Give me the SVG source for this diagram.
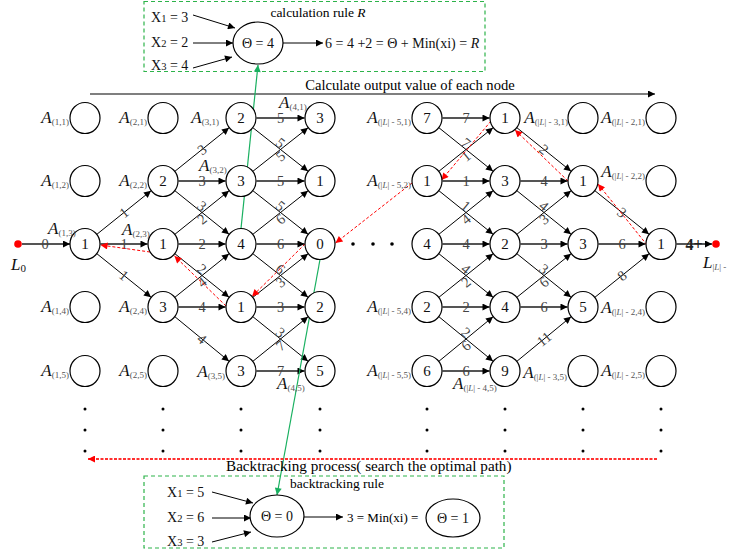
<svg xmlns="http://www.w3.org/2000/svg" width="729" height="554" viewBox="0 0 729 554">
  <style>
    text { font-family: "Liberation Serif", "Times New Roman", serif; }
    .nd { fill: #fff; stroke: #000; stroke-width: 1.2; }
    .nt { font-size: 15px; text-anchor: middle; fill: #111; }
    .e { stroke: #000; stroke-width: 1; fill: none; marker-end: url(#ah); }
    .h { stroke: #555; stroke-width: 1.8; fill: none; marker-end: url(#ah); }
    .w { font-size: 14.5px; fill: #444; text-anchor: middle; }
    .bt { stroke: #f00; stroke-width: 1; stroke-dasharray: 3 2; fill: none; marker-end: url(#ahr); }
    .gr { stroke: #19b060; stroke-width: 1.2; fill: none; marker-end: url(#ahg); }
    .box { fill: none; stroke: #2db34a; stroke-width: 1.2; stroke-dasharray: 4 3; }
    .la { font-size: 17px; font-style: italic; fill: #111; }
    .ls { font-size: 9px; font-style: normal; fill: #555; }
    .lb { font-size: 14px; fill: #111; }
    .sb { font-size: 10.5px; }
    .dot { fill: #000; }
  </style>
  <defs>
    <marker id="ah" viewBox="0 0 10 10" refX="10" refY="5" markerWidth="9" markerHeight="7" orient="auto" markerUnits="userSpaceOnUse">
      <path d="M0,0 L10,5 L0,10 z" fill="#000"/>
    </marker>
    <marker id="ahr" viewBox="0 0 10 10" refX="10" refY="5" markerWidth="9" markerHeight="7" orient="auto" markerUnits="userSpaceOnUse">
      <path d="M0,0 L10,5 L0,10 z" fill="#f00"/>
    </marker>
    <marker id="ahg" viewBox="0 0 10 10" refX="10" refY="5" markerWidth="9" markerHeight="7" orient="auto" markerUnits="userSpaceOnUse">
      <path d="M0,0 L10,5 L0,10 z" fill="#19b060"/>
    </marker>
  </defs>

  <!-- calculation rule panel -->
  <g id="calc-rule">
    <rect class="box" x="144" y="1.5" width="341" height="70"/>
    <text x="318" y="17" font-size="13.5" text-anchor="middle">calculation rule <tspan font-style="italic">R</tspan></text>
    <text class="lb" x="151" y="22">X<tspan class="sb">1</tspan> = 3</text>
    <text class="lb" x="151" y="47">X<tspan class="sb">2</tspan> = 2</text>
    <text class="lb" x="151" y="70">X<tspan class="sb">3</tspan> = 4</text>
    <line class="e" x1="193" y1="15" x2="235" y2="28"/>
    <line class="e" x1="193" y1="43" x2="233" y2="43"/>
    <line class="e" x1="193" y1="68" x2="232" y2="57"/>
    <ellipse class="nd" cx="258" cy="43" rx="25" ry="21"/>
    <text class="lb" x="258" y="48" text-anchor="middle">Θ = 4</text>
    <line class="e" x1="283" y1="43" x2="323" y2="43"/>
    <text class="lb" x="325" y="48">6 = 4 +2 = Θ + Min(xi) = <tspan font-style="italic">R</tspan></text>
  </g>

  <!-- forward pass arrow -->
  <g id="forward">
    <line x1="90" y1="94" x2="655" y2="94" stroke="#000" stroke-width="1.2" marker-end="url(#ah)"/>
    <text x="410" y="90" font-size="14.6" text-anchor="middle">Calculate output value of each node</text>
  </g>

  <!-- connectors -->
  <g id="edges">
    <line class="h" x1="22" y1="244" x2="70" y2="244"/>
    <!-- column 1 -> 2 -->
    <line class="e" x1="97" y1="234.2" x2="151" y2="190.8"/>
    <line class="h" x1="100.5" y1="244" x2="147.5" y2="244"/>
    <line class="e" x1="97" y1="253.8" x2="151" y2="297.2"/>
    <!-- column 2 -> 3 -->
    <line class="e" x1="175" y1="171.2" x2="229" y2="127.8"/>
    <line class="h" x1="178.5" y1="181" x2="225.5" y2="181"/>
    <line class="e" x1="175" y1="190.8" x2="229" y2="234.2"/>
    <line class="e" x1="175" y1="234.2" x2="229" y2="190.8"/>
    <line class="h" x1="178.5" y1="244" x2="225.5" y2="244"/>
    <line class="e" x1="175" y1="253.8" x2="229" y2="297.2"/>
    <line class="e" x1="175" y1="297.2" x2="229" y2="253.8"/>
    <line class="h" x1="178.5" y1="307" x2="225.5" y2="307"/>
    <line class="e" x1="175" y1="316.8" x2="229" y2="361.2"/>
    <!-- column 3 -> 4 -->
    <line class="h" x1="256.5" y1="118" x2="304.5" y2="118"/>
    <line class="e" x1="253" y1="127.8" x2="308" y2="171.2"/>
    <line class="e" x1="253" y1="171.2" x2="308" y2="127.8"/>
    <line class="h" x1="256.5" y1="181" x2="304.5" y2="181"/>
    <line class="e" x1="253" y1="190.8" x2="308" y2="234.2"/>
    <line class="e" x1="253" y1="234.2" x2="308" y2="190.8"/>
    <line class="h" x1="256.5" y1="244" x2="304.5" y2="244"/>
    <line class="e" x1="253" y1="253.8" x2="308" y2="297.2"/>
    <line class="e" x1="253" y1="297.2" x2="308" y2="253.8"/>
    <line class="h" x1="256.5" y1="307" x2="304.5" y2="307"/>
    <line class="e" x1="253" y1="316.8" x2="308" y2="361.2"/>
    <line class="e" x1="253" y1="361.2" x2="308" y2="316.8"/>
    <line class="h" x1="256.5" y1="371" x2="304.5" y2="371"/>
    <!-- column |L|-5 -> |L|-4 -->
    <line class="h" x1="442.5" y1="118" x2="489.5" y2="118"/>
    <line class="e" x1="439" y1="127.8" x2="493" y2="171.2"/>
    <line class="e" x1="439" y1="171.2" x2="493" y2="127.8"/>
    <line class="h" x1="442.5" y1="181" x2="489.5" y2="181"/>
    <line class="e" x1="439" y1="190.8" x2="493" y2="234.2"/>
    <line class="e" x1="439" y1="234.2" x2="493" y2="190.8"/>
    <line class="h" x1="442.5" y1="244" x2="489.5" y2="244"/>
    <line class="e" x1="439" y1="253.8" x2="493" y2="297.2"/>
    <line class="e" x1="439" y1="297.2" x2="493" y2="253.8"/>
    <line class="h" x1="442.5" y1="307" x2="489.5" y2="307"/>
    <line class="e" x1="439" y1="316.8" x2="493" y2="361.2"/>
    <line class="e" x1="439" y1="361.2" x2="493" y2="316.8"/>
    <line class="h" x1="442.5" y1="371" x2="489.5" y2="371"/>
    <!-- column |L|-4 -> |L|-3 -->
    <line class="e" x1="517" y1="127.8" x2="571" y2="171.2"/>
    <line class="h" x1="520.5" y1="181" x2="567.5" y2="181"/>
    <line class="e" x1="517" y1="190.8" x2="571" y2="234.2"/>
    <line class="e" x1="517" y1="234.2" x2="571" y2="190.8"/>
    <line class="h" x1="520.5" y1="244" x2="567.5" y2="244"/>
    <line class="e" x1="517" y1="253.8" x2="571" y2="297.2"/>
    <line class="e" x1="517" y1="297.2" x2="571" y2="253.8"/>
    <line class="h" x1="520.5" y1="307" x2="567.5" y2="307"/>
    <line class="e" x1="517" y1="361.2" x2="571" y2="316.8"/>
    <!-- column |L|-3 -> |L|-2 -->
    <line class="e" x1="595" y1="190.8" x2="649" y2="234.2"/>
    <line class="h" x1="598.5" y1="244" x2="645.5" y2="244"/>
    <line class="e" x1="595" y1="297.2" x2="649" y2="253.8"/>
    <line class="h" x1="676.5" y1="244" x2="712" y2="244"/>

    <!-- edge weights -->
    <text class="w" x="45" y="249">0</text>
    <text class="w" transform="translate(124,212.5) rotate(-38.9)" dy="5">1</text>
    <text class="w" x="124" y="249">1</text>
    <text class="w" transform="translate(124,275.5) rotate(38.9)" dy="5">1</text>

    <text class="w" transform="translate(202,149.5) rotate(-38.9)" dy="5">3</text>
    <text class="w" x="202" y="186">3</text>
    <text class="w" transform="translate(202,206) rotate(38.9)" dy="5">3</text>
    <text class="w" transform="translate(202,219) rotate(-38.9)" dy="5">2</text>
    <text class="w" x="202" y="249">2</text>
    <text class="w" transform="translate(202,269) rotate(38.9)" dy="5">2</text>
    <text class="w" transform="translate(202,282) rotate(-38.9)" dy="5">4</text>
    <text class="w" x="202" y="312">4</text>
    <text class="w" transform="translate(202,339) rotate(38.9)" dy="5">4</text>

    <text class="w" x="280.5" y="123">5</text>
    <text class="w" transform="translate(280.5,143) rotate(38.9)" dy="5">5</text>
    <text class="w" transform="translate(280.5,156) rotate(-38.9)" dy="5">5</text>
    <text class="w" x="280.5" y="186">5</text>
    <text class="w" transform="translate(280.5,206) rotate(38.9)" dy="5">5</text>
    <text class="w" transform="translate(280.5,219) rotate(-38.9)" dy="5">6</text>
    <text class="w" x="280.5" y="249">6</text>
    <text class="w" transform="translate(280.5,269) rotate(38.9)" dy="5">6</text>
    <text class="w" transform="translate(280.5,282) rotate(-38.9)" dy="5">3</text>
    <text class="w" x="280.5" y="312">3</text>
    <text class="w" transform="translate(280.5,332.5) rotate(38.9)" dy="5">3</text>
    <text class="w" transform="translate(280.5,345.5) rotate(-38.9)" dy="5">7</text>
    <text class="w" x="280.5" y="376">7</text>

    <text class="w" x="466" y="123">7</text>
    <text class="w" transform="translate(466,143) rotate(38.9)" dy="5">7</text>
    <text class="w" transform="translate(466,156) rotate(-38.9)" dy="5">1</text>
    <text class="w" x="466" y="186">1</text>
    <text class="w" transform="translate(466,206) rotate(38.9)" dy="5">1</text>
    <text class="w" transform="translate(466,219) rotate(-38.9)" dy="5">4</text>
    <text class="w" x="466" y="249">4</text>
    <text class="w" transform="translate(466,269) rotate(38.9)" dy="5">4</text>
    <text class="w" transform="translate(466,282) rotate(-38.9)" dy="5">2</text>
    <text class="w" x="466" y="312">2</text>
    <text class="w" transform="translate(466,332.5) rotate(38.9)" dy="5">2</text>
    <text class="w" transform="translate(466,345.5) rotate(-38.9)" dy="5">6</text>
    <text class="w" x="466" y="376">6</text>

    <text class="w" transform="translate(544,149.5) rotate(38.9)" dy="5">2</text>
    <text class="w" x="544" y="186">4</text>
    <text class="w" transform="translate(544,206) rotate(38.9)" dy="5">4</text>
    <text class="w" transform="translate(544,219) rotate(-38.9)" dy="5">3</text>
    <text class="w" x="544" y="249">3</text>
    <text class="w" transform="translate(544,269) rotate(38.9)" dy="5">3</text>
    <text class="w" transform="translate(544,282) rotate(-38.9)" dy="5">6</text>
    <text class="w" x="544" y="312">6</text>
    <text class="w" transform="translate(544,339) rotate(-38.9)" dy="5">11</text>

    <text class="w" transform="translate(622,212.5) rotate(38.9)" dy="5">3</text>
    <text class="w" x="622" y="249">6</text>
    <text class="w" transform="translate(622,275.5) rotate(-38.9)" dy="5">8</text>
    <text x="694" y="250" font-size="16" font-weight="bold" text-anchor="middle" fill="#222">4+</text>

    <!-- backtracking path -->
    <line class="bt" x1="412" y1="183" x2="335.5" y2="243"/>
    <line class="bt" x1="305" y1="244" x2="252" y2="296.5"/>
    <line class="bt" x1="226" y1="306" x2="174.5" y2="256"/>
    <line class="bt" x1="150" y1="252" x2="100.5" y2="245"/>
    <line class="bt" x1="647" y1="245" x2="598" y2="184"/>
    <line class="bt" x1="568" y1="181" x2="515" y2="130"/>
    <line class="bt" x1="491" y1="121" x2="441.5" y2="180"/>

    <!-- rule links -->
    <line class="gr" x1="241" y1="228.5" x2="258" y2="65"/>
    <line class="gr" x1="320" y1="259.5" x2="277" y2="495"/>

    <!-- backtracking direction -->
    <line x1="657" y1="459" x2="88" y2="459" stroke="#ff3030" stroke-width="2" stroke-dasharray="3 1.5" marker-end="url(#ahr)"/>
  </g>

  <!-- start / end -->
  <g id="L0">
    <circle cx="18" cy="244" r="3.8" fill="#f00"/>
    <text class="la" x="11" y="270">L<tspan font-size="11" font-style="normal" dy="2">0</tspan></text>
  </g>
  <g id="Lend">
    <circle cx="716" cy="244" r="3.8" fill="#f00"/>
    <text class="la" x="703" y="268">L<tspan class="ls" dy="2">|<tspan font-style="italic">L</tspan>| -</tspan></text>
  </g>

  <!-- column 1 -->
  <g id="n-1-1"><ellipse class="nd" cx="85" cy="118" rx="15" ry="15.5"/><text class="la" x="69" y="123" text-anchor="end">A<tspan class="ls" dy="2">(1,1)</tspan></text></g>
  <g id="n-1-2"><ellipse class="nd" cx="85" cy="181" rx="15" ry="15.5"/><text class="la" x="69" y="186" text-anchor="end">A<tspan class="ls" dy="2">(1,2)</tspan></text></g>
  <g id="n-1-3"><ellipse class="nd" cx="85" cy="244" rx="15" ry="15.5"/><text class="nt" x="85" y="249">1</text><text class="la" x="48" y="234">A<tspan class="ls" dy="2">(1,3)</tspan></text></g>
  <g id="n-1-4"><ellipse class="nd" cx="85" cy="307" rx="15" ry="15.5"/><text class="la" x="69" y="312" text-anchor="end">A<tspan class="ls" dy="2">(1,4)</tspan></text></g>
  <g id="n-1-5"><ellipse class="nd" cx="85" cy="371" rx="15" ry="15.5"/><text class="la" x="69" y="376" text-anchor="end">A<tspan class="ls" dy="2">(1,5)</tspan></text></g>

  <!-- column 2 -->
  <g id="n-2-1"><ellipse class="nd" cx="163" cy="118" rx="15" ry="15.5"/><text class="la" x="147" y="123" text-anchor="end">A<tspan class="ls" dy="2">(2,1)</tspan></text></g>
  <g id="n-2-2"><ellipse class="nd" cx="163" cy="181" rx="15" ry="15.5"/><text class="nt" x="163" y="186">2</text><text class="la" x="147" y="186" text-anchor="end">A<tspan class="ls" dy="2">(2,2)</tspan></text></g>
  <g id="n-2-3"><ellipse class="nd" cx="163" cy="244" rx="15" ry="15.5"/><text class="nt" x="163" y="249">1</text><text class="la" x="122" y="235">A<tspan class="ls" dy="2">(2,3)</tspan></text></g>
  <g id="n-2-4"><ellipse class="nd" cx="163" cy="307" rx="15" ry="15.5"/><text class="nt" x="163" y="312">3</text><text class="la" x="147" y="312" text-anchor="end">A<tspan class="ls" dy="2">(2,4)</tspan></text></g>
  <g id="n-2-5"><ellipse class="nd" cx="163" cy="371" rx="15" ry="15.5"/><text class="la" x="147" y="376" text-anchor="end">A<tspan class="ls" dy="2">(2,5)</tspan></text></g>

  <!-- column 3 -->
  <g id="n-3-1"><ellipse class="nd" cx="241" cy="118" rx="15" ry="15.5"/><text class="nt" x="241" y="123">2</text><text class="la" x="219" y="123" text-anchor="end">A<tspan class="ls" dy="2">(3,1)</tspan></text></g>
  <g id="n-3-2"><ellipse class="nd" cx="241" cy="181" rx="15" ry="15.5"/><text class="nt" x="241" y="186">3</text><text class="la" x="199" y="171">A<tspan class="ls" dy="2">(3,2)</tspan></text></g>
  <g id="n-3-3"><ellipse class="nd" cx="241" cy="244" rx="15" ry="15.5"/><text class="nt" x="241" y="249">4</text></g>
  <g id="n-3-4"><ellipse class="nd" cx="241" cy="307" rx="15" ry="15.5"/><text class="nt" x="241" y="312">1</text></g>
  <g id="n-3-5"><ellipse class="nd" cx="241" cy="371" rx="15" ry="15.5"/><text class="nt" x="241" y="376">3</text><text class="la" x="225" y="377" text-anchor="end">A<tspan class="ls" dy="2">(3,5)</tspan></text></g>

  <!-- column 4 -->
  <g id="n-4-1"><ellipse class="nd" cx="320" cy="118" rx="15" ry="15.5"/><text class="nt" x="320" y="123">3</text><text class="la" x="279" y="108">A<tspan class="ls" dy="2">(4,1)</tspan></text></g>
  <g id="n-4-2"><ellipse class="nd" cx="320" cy="181" rx="15" ry="15.5"/><text class="nt" x="320" y="186">1</text></g>
  <g id="n-4-3"><ellipse class="nd" cx="320" cy="244" rx="15" ry="15.5"/><text class="nt" x="320" y="249">0</text></g>
  <g id="n-4-4"><ellipse class="nd" cx="320" cy="307" rx="15" ry="15.5"/><text class="nt" x="320" y="312">2</text></g>
  <g id="n-4-5"><ellipse class="nd" cx="320" cy="371" rx="15" ry="15.5"/><text class="nt" x="320" y="376">5</text><text class="la" x="277" y="389">A<tspan class="ls" dy="2">(4,5)</tspan></text></g>

  <!-- gap between the two blocks -->
  <g id="gap">
    <circle class="dot" cx="353" cy="244" r="1.8"/>
    <circle class="dot" cx="373" cy="244" r="1.8"/>
    <circle class="dot" cx="392" cy="244" r="1.8"/>
  </g>

  <!-- column |L|-5 -->
  <g id="n-L5-1"><ellipse class="nd" cx="427" cy="118" rx="15" ry="15.5"/><text class="nt" x="427" y="123">7</text><text class="la" x="411" y="123" text-anchor="end">A<tspan class="ls" dy="2">(|<tspan font-style="italic">L</tspan>| - 5,1)</tspan></text></g>
  <g id="n-L5-2"><ellipse class="nd" cx="427" cy="181" rx="15" ry="15.5"/><text class="nt" x="427" y="186">1</text><text class="la" x="411" y="186" text-anchor="end">A<tspan class="ls" dy="2">(|<tspan font-style="italic">L</tspan>| - 5,2)</tspan></text></g>
  <g id="n-L5-3"><ellipse class="nd" cx="427" cy="244" rx="15" ry="15.5"/><text class="nt" x="427" y="249">4</text></g>
  <g id="n-L5-4"><ellipse class="nd" cx="427" cy="307" rx="15" ry="15.5"/><text class="nt" x="427" y="312">2</text><text class="la" x="411" y="312" text-anchor="end">A<tspan class="ls" dy="2">(|<tspan font-style="italic">L</tspan>| - 5,4)</tspan></text></g>
  <g id="n-L5-5"><ellipse class="nd" cx="427" cy="371" rx="15" ry="15.5"/><text class="nt" x="427" y="376">6</text><text class="la" x="411" y="376" text-anchor="end">A<tspan class="ls" dy="2">(|<tspan font-style="italic">L</tspan>| - 5,5)</tspan></text></g>

  <!-- column |L|-4 -->
  <g id="n-L4-1"><ellipse class="nd" cx="505" cy="118" rx="15" ry="15.5"/><text class="nt" x="505" y="123">1</text></g>
  <g id="n-L4-2"><ellipse class="nd" cx="505" cy="181" rx="15" ry="15.5"/><text class="nt" x="505" y="186">3</text></g>
  <g id="n-L4-3"><ellipse class="nd" cx="505" cy="244" rx="15" ry="15.5"/><text class="nt" x="505" y="249">2</text></g>
  <g id="n-L4-4"><ellipse class="nd" cx="505" cy="307" rx="15" ry="15.5"/><text class="nt" x="505" y="312">4</text></g>
  <g id="n-L4-5"><ellipse class="nd" cx="505" cy="371" rx="15" ry="15.5"/><text class="nt" x="505" y="376">9</text><text class="la" x="453" y="389">A<tspan class="ls" dy="2">(|<tspan font-style="italic">L</tspan>| - 4,5)</tspan></text></g>

  <!-- column |L|-3 -->
  <g id="n-L3-1"><ellipse class="nd" cx="583" cy="118" rx="15" ry="15.5"/><text class="la" x="568" y="123" text-anchor="end">A<tspan class="ls" dy="2">(|<tspan font-style="italic">L</tspan>| - 3,1)</tspan></text></g>
  <g id="n-L3-2"><ellipse class="nd" cx="583" cy="181" rx="15" ry="15.5"/><text class="nt" x="583" y="186">1</text></g>
  <g id="n-L3-3"><ellipse class="nd" cx="583" cy="244" rx="15" ry="15.5"/><text class="nt" x="583" y="249">3</text></g>
  <g id="n-L3-4"><ellipse class="nd" cx="583" cy="307" rx="15" ry="15.5"/><text class="nt" x="583" y="312">5</text></g>
  <g id="n-L3-5"><ellipse class="nd" cx="583" cy="371" rx="15" ry="15.5"/><text class="la" x="567" y="378" text-anchor="end">A<tspan class="ls" dy="2">(|<tspan font-style="italic">L</tspan>| - 3,5)</tspan></text></g>

  <!-- column |L|-2 -->
  <g id="n-L2-1"><ellipse class="nd" cx="661" cy="118" rx="15" ry="15.5"/><text class="la" x="645" y="123" text-anchor="end">A<tspan class="ls" dy="2">(|<tspan font-style="italic">L</tspan>| - 2,1)</tspan></text></g>
  <g id="n-L2-2"><ellipse class="nd" cx="661" cy="181" rx="15" ry="15.5"/><text class="la" x="645" y="177" text-anchor="end">A<tspan class="ls" dy="2">(|<tspan font-style="italic">L</tspan>| - 2,2)</tspan></text></g>
  <g id="n-L2-3"><ellipse class="nd" cx="661" cy="244" rx="15" ry="15.5"/><text class="nt" x="661" y="249">1</text></g>
  <g id="n-L2-4"><ellipse class="nd" cx="661" cy="307" rx="15" ry="15.5"/><text class="la" x="645" y="313" text-anchor="end">A<tspan class="ls" dy="2">(|<tspan font-style="italic">L</tspan>| - 2,4)</tspan></text></g>
  <g id="n-L2-5"><ellipse class="nd" cx="661" cy="371" rx="15" ry="15.5"/><text class="la" x="645" y="376" text-anchor="end">A<tspan class="ls" dy="2">(|<tspan font-style="italic">L</tspan>| - 2,5)</tspan></text></g>

  <!-- continuation dots under each column -->
  <g id="more-rows">
    <circle class="dot" cx="85" cy="409" r="1.5"/><circle class="dot" cx="85" cy="430" r="1.5"/><circle class="dot" cx="85" cy="451" r="1.5"/>
    <circle class="dot" cx="163" cy="409" r="1.5"/><circle class="dot" cx="163" cy="430" r="1.5"/><circle class="dot" cx="163" cy="451" r="1.5"/>
    <circle class="dot" cx="241" cy="409" r="1.5"/><circle class="dot" cx="241" cy="430" r="1.5"/><circle class="dot" cx="241" cy="451" r="1.5"/>
    <circle class="dot" cx="320" cy="409" r="1.5"/><circle class="dot" cx="320" cy="430" r="1.5"/><circle class="dot" cx="320" cy="451" r="1.5"/>
    <circle class="dot" cx="427" cy="409" r="1.5"/><circle class="dot" cx="427" cy="430" r="1.5"/><circle class="dot" cx="427" cy="451" r="1.5"/>
    <circle class="dot" cx="505" cy="409" r="1.5"/><circle class="dot" cx="505" cy="430" r="1.5"/><circle class="dot" cx="505" cy="451" r="1.5"/>
    <circle class="dot" cx="583" cy="409" r="1.5"/><circle class="dot" cx="583" cy="430" r="1.5"/><circle class="dot" cx="583" cy="451" r="1.5"/>
    <circle class="dot" cx="661" cy="409" r="1.5"/><circle class="dot" cx="661" cy="430" r="1.5"/><circle class="dot" cx="661" cy="451" r="1.5"/>
  </g>

  <!-- backtracking rule panel -->
  <g id="back-rule">
    <text x="226" y="471" font-size="15.2">Backtracking process( search the optimal path)</text>
    <rect class="box" x="144" y="476" width="360" height="72"/>
    <text x="337" y="488" font-size="13.5" text-anchor="middle">backtracking rule</text>
    <text class="lb" x="167" y="497">X<tspan class="sb">1</tspan> = 5</text>
    <text class="lb" x="167" y="522">X<tspan class="sb">2</tspan> = 6</text>
    <text class="lb" x="167" y="546">X<tspan class="sb">3</tspan> = 3</text>
    <line class="e" x1="212" y1="492" x2="253" y2="503"/>
    <line class="e" x1="212" y1="518" x2="251" y2="518"/>
    <line class="e" x1="212" y1="542" x2="251" y2="532"/>
    <ellipse class="nd" cx="277" cy="516" rx="27" ry="21"/>
    <text class="lb" x="277" y="521" text-anchor="middle">Θ = 0</text>
    <line class="e" x1="304" y1="517" x2="343" y2="517"/>
    <text x="347" y="522" font-size="13">3 = Min(xi) =</text>
    <ellipse class="nd" cx="453" cy="518" rx="27" ry="19"/>
    <text class="lb" x="453" y="523" text-anchor="middle">Θ = 1</text>
  </g>
</svg>
